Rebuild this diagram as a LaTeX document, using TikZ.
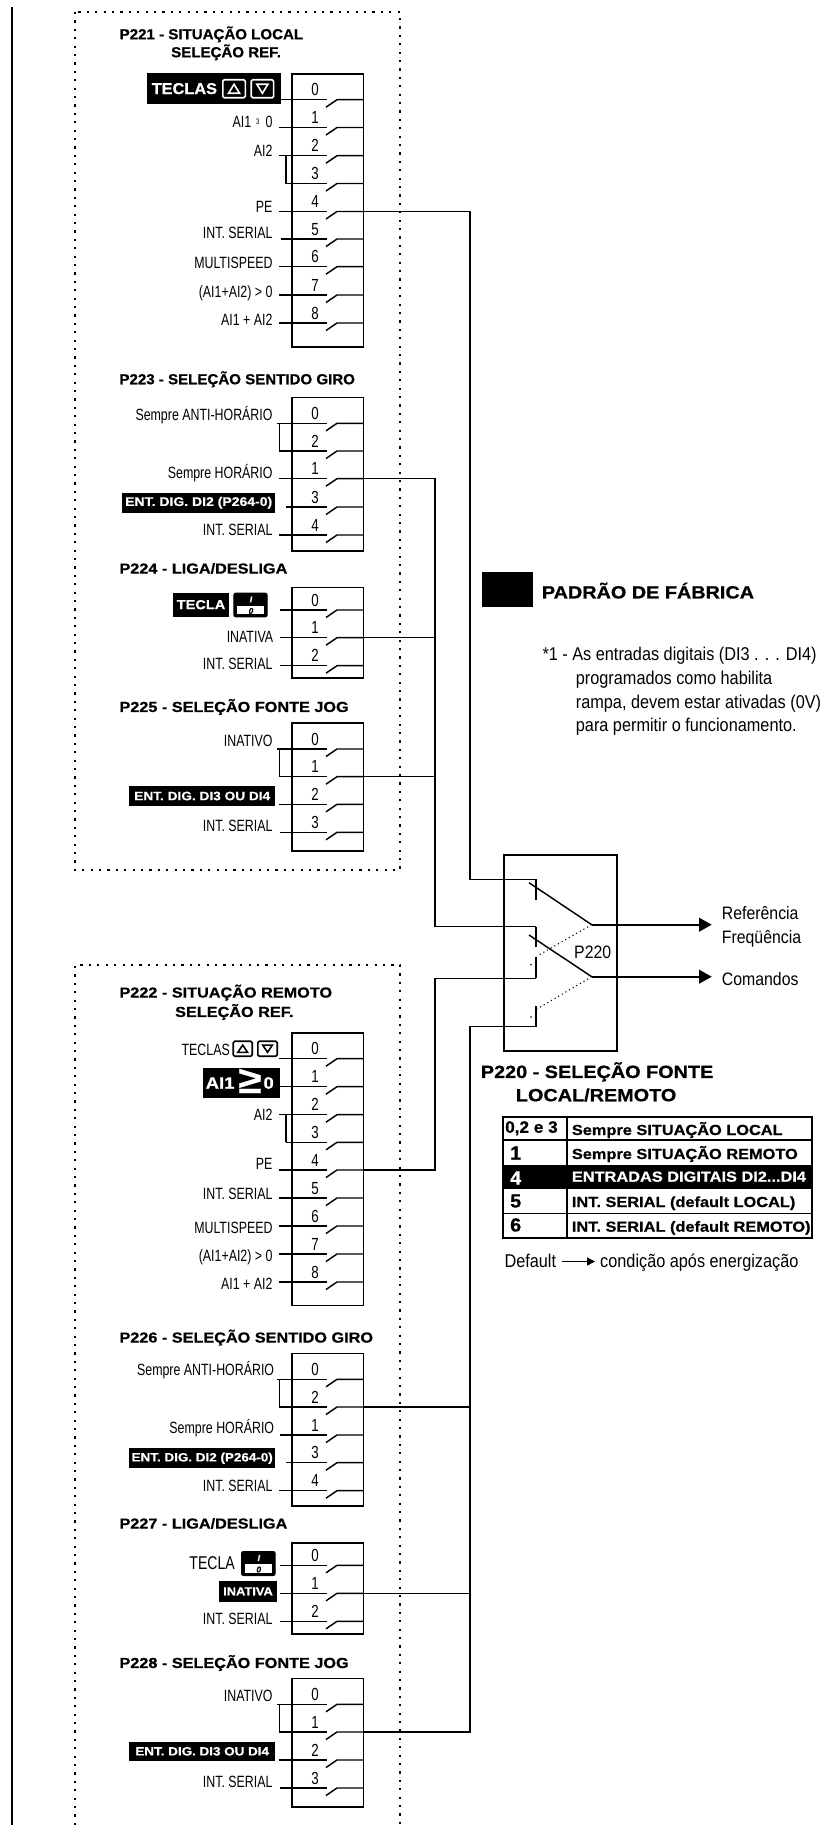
\documentclass[tikz,border=0pt]{standalone}
\usepackage{fontspec}
\setmainfont{Liberation Sans}
\newfontfamily\cond[FakeStretch=0.76]{Liberation Sans}
\newfontfamily\condw[FakeStretch=0.88]{Liberation Sans}
\newfontfamily\blkA[FakeStretch=1.04,FakeBold=0.7]{Liberation Sans Bold}
\newfontfamily\blkB[FakeStretch=1.12,FakeBold=0.7]{Liberation Sans Bold}
\newfontfamily\keyf[FakeSlant=0.2,FakeBold=0.4]{Liberation Sans Bold}
\usetikzlibrary{arrows.meta,calc}
\newcommand{\fs}[1]{\fontsize{#1}{#1}\selectfont}
\tikzset{
  wire/.style={line width=1.45pt,line join=miter},
  swbox/.style={draw,line width=1.6pt,anchor=north west,inner sep=0pt,outer sep=0pt,minimum width=71.7pt},
  lbl/.style={anchor=east,inner sep=0pt,text height=11.6pt,text depth=0pt,font=\cond\fs{16.3}},
  num/.style={anchor=center,inner sep=0pt,text height=12.3pt,text depth=0pt,font=\cond\fs{17.5}},
  hda/.style={anchor=west,inner sep=0pt,text height=10.5pt,text depth=0pt,font=\blkA\fs{14.5}},
  hdb/.style={anchor=west,inner sep=0pt,text height=10.5pt,text depth=0pt,font=\blkB\fs{14.5}},
  hdc/.style={anchor=west,inner sep=0pt,text height=12.5pt,text depth=0pt,font=\blkB\fs{17.7}},
  tab/.style={anchor=west,inner sep=0pt,text height=10pt,text depth=0pt,font=\blkB\fs{14.6}},
  tabn/.style={anchor=west,inner sep=0pt,text height=13pt,text depth=0pt,font=\blkA\fs{19}},
  blkbox/.style={fill=black,text=white,inner sep=0pt,outer sep=0pt,anchor=center},
  txt/.style={anchor=west,inner sep=0pt,text height=13pt,text depth=0pt,font=\condw\fs{18.5}},
  dotbox/.style={line width=2.2pt,dash pattern=on 2.2pt off 6.2pt},
  bar/.style={line width=1.6pt},
  outp/.style={line width=1.8pt,-{Triangle[length=12.5pt,width=13.5pt]}},
  dots/.style={line width=1.1pt,dash pattern=on 1.1pt off 3.1pt},
}
% switch line: name, y, left x, number
\newcommand{\sw}[4]{%
  \coordinate (#1l) at (#3,#2);
  \coordinate (#1a) at (327,#2);
  \coordinate (#1b) at (326,{#2+7.5});
  \coordinate (#1t) at (337,#2);
  \coordinate (#1r) at (363.3,#2);
  \node[num] (#1n) at (315,{#2-10}) {#4};
  \draw[wire] (#1l) -- (#1a);
  \draw[wire] (#1b) -- (#1t) -- (#1r);
}
% switch block: name, top, bottom
\newcommand{\swb}[3]{\node[swbox,minimum height={#3-#2}] (#1) at (291.7,#2) {};}
% arrow key: x1,y1,x2,y2,colour,dir,half width,half height
\newcommand{\tkey}[8]{%
  \draw[#5,line width=1.6pt,rounded corners=1.5pt] (#1,#2) rectangle (#3,#4);
  \draw[#5,line width=1.6pt,line join=miter]
    ({(#1+#3)/2-#7},{(#2+#4)/2+#6*#8}) -- ({(#1+#3)/2+#7},{(#2+#4)/2+#6*#8}) -- ({(#1+#3)/2},{(#2+#4)/2-#6*#8}) -- cycle;
}
% I/0 key: name,x1,y1,x2,y2
\newcommand{\ikey}[5]{%
  \draw[fill=black,line width=1pt,rounded corners=2pt] (#2,#3) rectangle (#4,#5);
  \fill[white] ({#2+3},{(#3+#5)/2+0.5}) rectangle ({#4-3},{#5-3});
  \node[inner sep=0pt,text=white,font=\keyf\fs{8.5}] (#1i) at ({(#2+#4)/2},{(#3+#5)/2-5.5}) {I};
  \node[inner sep=0pt,text=black,font=\keyf\fs{8.5}] (#1o) at ({(#2+#4)/2},{(#3+#5)/2+6}) {0};
}
\begin{document}
\begin{tikzpicture}[x=1pt,y=-1pt]
\useasboundingbox (0,0) rectangle (829,1825);
\fill[white] (0,0) rectangle (829,1825);

% left rule and dotted frames
\coordinate (ruleT) at (12,7);
\coordinate (ruleB) at (12,1825);
\draw[line width=2.6pt] (ruleT) -- (ruleB);
\draw[dotbox] (75,12) rectangle (400,870);
\draw[dotbox] (75,1825) -- (75,965.3) -- (400,965.3) -- (400,1825);

% ---------- P221
\node[hda] (h221a) at (119.5,34) {P221 - SITUAÇÃO LOCAL};
\node[hda] (h221b) at (171,52) {SELEÇÃO REF.};
\node[blkbox,minimum width=133.4pt,minimum height=31pt] (tec1) at (214,88.8) {};
\node[anchor=west,inner sep=0pt,text=white,text height=11.5pt,text depth=0pt,font=\blkA\fs{15.7}] (tec1t) at (151.5,88.3) {TECLAS};
\tkey{222.8}{79.8}{245.3}{97.8}{white}{1}{5.5}{4.5}
\tkey{251.2}{79.8}{273.6}{97.8}{white}{-1}{5.5}{4.5}
\swb{p221}{74}{347}
\sw{a0}{99.7}{280}{0}
\sw{a1}{127.5}{279.3}{1}
\sw{a2}{155.7}{279.3}{2}
\sw{a3}{183.5}{286}{3}
\sw{a4}{211.5}{279.3}{4}
\sw{a5}{239}{280.7}{5}
\sw{a6}{266.7}{279.3}{6}
\sw{a7}{295}{279.3}{7}
\sw{a8}{323}{279.3}{8}
\draw[wire] (a3l) -- (a3l |- a2l);
\node[lbl] (a1x) at (272.7,122) {AI1\hspace{5pt}{\fs{8}\raisebox{3pt}{3}}\hspace{6pt}0};
\node[lbl] (a2x) at (272.7,150.7) {AI2};
\node[lbl] (a4x) at (272.7,206.7) {PE};
\node[lbl] (a5x) at (272.7,233) {INT. SERIAL};
\node[lbl] (a6x) at (272.7,263) {MULTISPEED};
\node[lbl] (a7x) at (272.7,291.7) {(AI1+AI2) > 0};
\node[lbl] (a8x) at (272.7,320) {AI1 + AI2};

% ---------- P223
\node[hda] (h223) at (119.3,379) {P223 - SELEÇÃO SENTIDO GIRO};
\swb{p223}{397.3}{550.7}
\sw{b0}{423.3}{277.3}{0}
\sw{b1}{451}{279.3}{2}
\sw{b2}{478.7}{279.3}{1}
\sw{b3}{507}{286}{3}
\sw{b4}{535}{279.3}{4}
\draw[wire] (b1l) -- (b1l |- b0l);
\node[lbl] (b0x) at (272.7,415) {Sempre ANTI-HORÁRIO};
\node[lbl] (b2x) at (272.7,472.3) {Sempre HORÁRIO};
\node[blkbox,minimum width=152.7pt,minimum height=20pt,font=\blkB\fs{12.5}] (b3x) at (198.7,502.7) {ENT. DIG. DI2 (P264-0)};
\node[lbl] (b4x) at (272.7,529.3) {INT. SERIAL};

% ---------- P224
\node[hdb] (h224) at (119.3,568.3) {P224 - LIGA/DESLIGA};
\swb{p224}{587.3}{678}
\sw{c0}{610}{280}{0}
\sw{c1}{637.7}{280}{1}
\sw{c2}{665.7}{280}{2}
\node[blkbox,minimum width=56.6pt,minimum height=24pt,font=\blkB\fs{13}] (c0x) at (201,604.7) {TECLA};
\ikey{k224}{233.8}{593.2}{267.2}{616.8}
\node[lbl] (c1x) at (273.3,636.7) {INATIVA};
\node[lbl] (c2x) at (272.7,663.3) {INT. SERIAL};

% ---------- P225
\node[hdb] (h225) at (119.3,706.7) {P225 - SELEÇÃO FONTE JOG};
\swb{p225}{722.7}{851}
\sw{d0}{749}{277.3}{0}
\sw{d1}{776.7}{279.3}{1}
\sw{d2}{804.3}{279.3}{2}
\sw{d3}{832.3}{280}{3}
\draw[wire] (d1l) -- (d1l |- d0l);
\node[lbl] (d0x) at (272.7,741) {INATIVO};
\node[blkbox,minimum width=145.7pt,minimum height=20pt,font=\blkB\fs{12.2}] (d2x) at (202.2,796) {ENT. DIG. DI3 OU DI4};
\node[lbl] (d3x) at (272.7,826) {INT. SERIAL};

% ---------- P222
\node[hdb] (h222a) at (119.3,992.3) {P222 - SITUAÇÃO REMOTO};
\node[hdb] (h222b) at (175,1011.7) {SELEÇÃO REF.};
\swb{p222}{1032.7}{1305.3}
\sw{e0}{1058.7}{279.3}{0}
\sw{e1}{1086.7}{280}{1}
\sw{e2}{1114.7}{279.3}{2}
\sw{e3}{1142.3}{286}{3}
\sw{e4}{1170}{279.3}{4}
\sw{e5}{1198}{279.3}{5}
\sw{e6}{1226}{279.3}{6}
\sw{e7}{1254}{279.3}{7}
\sw{e8}{1282}{279.3}{8}
\draw[wire] (e3l) -- (e3l |- e2l);
\node[lbl] (e0x) at (230,1049.3) {TECLAS};
\tkey{233.2}{1041.2}{252.2}{1056.2}{black}{1}{4.8}{3.6}
\tkey{257.8}{1041.2}{277.2}{1056.2}{black}{-1}{4.8}{3.6}
\node[blkbox,minimum width=76.7pt,minimum height=30pt] (e1x) at (241.7,1083.3) {};
\node[anchor=west,inner sep=0pt,text=white,text height=12pt,text depth=0pt,font=\blkB\fs{16.5}] (e1t) at (205.5,1082.7) {AI1};
\node[inner sep=0pt,text=white,font=\blkB\fs{38}] (e1g) at (250,1081) {≥};
\node[anchor=west,inner sep=0pt,text=white,text height=12pt,text depth=0pt,font=\blkB\fs{16.5}] (e1z) at (263.3,1082.7) {0};
\node[lbl] (e2x) at (272.7,1114.3) {AI2};
\node[lbl] (e4x) at (272.7,1163.3) {PE};
\node[lbl] (e5x) at (272.7,1193.3) {INT. SERIAL};
\node[lbl] (e6x) at (272.7,1227.3) {MULTISPEED};
\node[lbl] (e7x) at (272.7,1256) {(AI1+AI2) > 0};
\node[lbl] (e8x) at (272.7,1283.3) {AI1 + AI2};

% ---------- P226
\node[hdb] (h226) at (119.3,1337.3) {P226 - SELEÇÃO SENTIDO GIRO};
\swb{p226}{1353.3}{1506}
\sw{f0}{1379.3}{277.3}{0}
\sw{f1}{1407}{279.3}{2}
\sw{f2}{1435}{280}{1}
\sw{f3}{1462.7}{286}{3}
\sw{f4}{1490.7}{279.3}{4}
\draw[wire] (f1l) -- (f1l |- f0l);
\node[lbl] (f0x) at (274.3,1370) {Sempre ANTI-HORÁRIO};
\node[lbl] (f2x) at (274.3,1427.3) {Sempre HORÁRIO};
\node[blkbox,minimum width=145.7pt,minimum height=20pt,font=\blkB\fs{12}] (f3x) at (202.2,1458.3) {ENT. DIG. DI2 (P264-0)};
\node[lbl] (f4x) at (272.7,1485.3) {INT. SERIAL};

% ---------- P227
\node[hdb] (h227) at (119.3,1523.3) {P227 - LIGA/DESLIGA};
\swb{p227}{1542.7}{1634}
\sw{g0}{1565.3}{280}{0}
\sw{g1}{1593.3}{280}{1}
\sw{g2}{1621.3}{280}{2}
\node[anchor=east,inner sep=0pt,text height=13pt,text depth=0pt,font=\cond\fs{18.5}] (g0x) at (235,1562.7) {TECLA};
\ikey{k227}{241.5}{1551.5}{275.2}{1575.5}
\node[blkbox,minimum width=57.4pt,minimum height=20.7pt,font=\blkB\fs{11.5}] (g1x) at (248,1591.3) {INATIVA};
\node[lbl] (g2x) at (272.7,1618.7) {INT. SERIAL};

% ---------- P228
\node[hdb] (h228) at (119.3,1662.7) {P228 - SELEÇÃO FONTE JOG};
\swb{p228}{1678.3}{1807}
\sw{h0}{1704.3}{277.3}{0}
\sw{h1}{1732}{279.3}{1}
\sw{h2}{1760}{279.3}{2}
\sw{h3}{1788}{280}{3}
\draw[wire] (h1l) -- (h1l |- h0l);
\node[lbl] (h0x) at (272.7,1696) {INATIVO};
\node[blkbox,minimum width=145.7pt,minimum height=19.4pt,font=\blkB\fs{12}] (h2x) at (202.2,1751.3) {ENT. DIG. DI3 OU DI4};
\node[lbl] (h3x) at (272.7,1782) {INT. SERIAL};

% ---------- P220 selector
\node[draw,line width=1.6pt,anchor=north west,inner sep=0pt,outer sep=0pt,minimum width=112.7pt,minimum height=196pt] (p220) at (504,854.7) {};
\coordinate (s1top) at (536,879.3);
\coordinate (s1bot) at (536,900);
\coordinate (s2top) at (536,926.7);
\coordinate (s2bot) at (536,946.7);
\coordinate (s3top) at (536,956.7);
\coordinate (s3bot) at (536,978.3);
\coordinate (s4top) at (536,1006);
\coordinate (s4bot) at (536,1026.7);
\coordinate (xA) at (470,0);
\coordinate (xB) at (435,0);
\coordinate (b1s) at (529,882.7);
\coordinate (b2s) at (529,935);
\coordinate (pv1) at (591.7,924.7);
\coordinate (pv2) at (591.7,976.7);
\coordinate (d1e) at (537,956);
\coordinate (d2e) at (537,1009);
\coordinate (o1) at (711.7,924.7);
\coordinate (o2) at (711.7,976.7);

% wires to the selector
\draw[wire] (a4r) -- (xA |- a4r) -- (xA |- s1top) -- (s1top);
\draw[wire] (b2r) -- (xB |- b2r) -- (xB |- s2top) -- (s2top);
\draw[wire] (c1r) -- (xB |- c1r);
\draw[wire] (d1r) -- (xB |- d1r);
\draw[wire] (e4r) -- (xB |- e4r) -- (xB |- s3bot) -- (s3bot);
\draw[wire] (f1r) -- (xA |- f1r);
\draw[wire] (g1r) -- (xA |- g1r);
\draw[wire] (h1r) -- (xA |- h1r) -- (xA |- s4bot) -- (s4bot);
\draw[bar] (s1top) -- (s1bot);
\draw[bar] (s2top) -- (s2bot);
\draw[bar] (s3top) -- (s3bot);
\draw[bar] (s4top) -- (s4bot);
\draw[wire] (b1s) -- (pv1);
\draw[wire] (b2s) -- (pv2);
\draw[outp] (pv1) -- (o1);
\draw[outp] (pv2) -- (o2);
\draw[dots] (pv1) -- (d1e);
\draw[dots] (pv2) -- (d2e);
\coordinate (dot1) at (531,964.7);
\coordinate (dot2) at (531,1017);
\fill (dot1) circle (0.8pt);
\fill (dot2) circle (0.8pt);
\node[inner sep=0pt,text height=12.8pt,text depth=0pt,font=\condw\fs{18}] (p220t) at (592.7,951.7) {P220};
\node[txt,font=\condw\fs{18}] (ref) at (721.7,912.7) {Referência};
\node[txt,font=\condw\fs{18}] (fre) at (721.7,936.7) {Freqüência};
\node[txt,font=\condw\fs{18}] (com) at (721.7,979.3) {Comandos};

% ---------- legend and note
\node[blkbox,minimum width=50.7pt,minimum height=35pt] (leg) at (507.3,589.2) {};
\node[anchor=west,inner sep=0pt,text height=13.5pt,text depth=0pt,font=\blkB\fs{17.7}] (legt) at (541.7,591.7) {PADRÃO DE FÁBRICA};
\node[txt] (n1) at (542.3,654.3) {*1 - As entradas digitais (DI3 . . . DI4)};
\node[txt] (n2) at (575.7,678.3) {programados como habilita};
\node[txt] (n3) at (575.7,701.7) {rampa, devem estar ativadas (0V)};
\node[txt] (n4) at (575.7,725) {para permitir o funcionamento.};

% ---------- P220 table
\node[hdc] (h220a) at (480.7,1071.7) {P220 - SELEÇÃO FONTE};
\node[hdc] (h220b) at (515.7,1095) {LOCAL/REMOTO};
\node[blkbox,minimum width=309pt,minimum height=24.3pt] (trow) at (657.2,1177.2) {};
\node[draw,line width=1.6pt,anchor=north west,inner sep=0pt,outer sep=0pt,minimum width=309pt,minimum height=121pt] (tframe) at (502.7,1116.7) {};
\coordinate (tv1) at (566.7,1116.7);
\coordinate (tv2) at (566.7,1165);
\coordinate (tv3) at (566.7,1189.3);
\coordinate (tv4) at (566.7,1237.7);
\draw[line width=1.6pt] (tv1) -- (tv2);
\draw[line width=1.6pt] (tv3) -- (tv4);
\coordinate (th1) at (502.7,1140);
\coordinate (th3) at (502.7,1213.3);
\draw[line width=1.6pt] (th1) -- (th1 -| tframe.east);
\draw[line width=1.6pt] (th3) -- (th3 -| tframe.east);
\node[anchor=west,inner sep=0pt,text height=11.5pt,text depth=0pt,font=\blkA\fs{16.5}] (t0a) at (505,1127) {0,2 e 3};
\node[tab] (t0b) at (571.7,1130) {Sempre SITUAÇÃO LOCAL};
\node[tabn] (t1a) at (510,1153) {1};
\node[tab] (t1b) at (571.7,1154) {Sempre SITUAÇÃO REMOTO};
\node[tabn,text=white] (t2a) at (510,1178) {4};
\node[tab,text=white] (t2b) at (571.7,1176.7) {ENTRADAS DIGITAIS DI2...DI4};
\node[tabn] (t3a) at (510,1201) {5};
\node[tab] (t3b) at (571.7,1202) {INT. SERIAL (default LOCAL)};
\node[tabn] (t4a) at (510,1225) {6};
\node[tab] (t4b) at (571.7,1226.7) {INT. SERIAL (default REMOTO)};

% ---------- default note
\node[txt] (dfl) at (504.3,1260.7) {Default};
\node[txt] (dfr) at (600,1260.7) {condição após energização};
\draw[line width=1.4pt,-{Triangle[length=8pt,width=8pt]}] (561.7,1261.5) -- (595,1261.5);
\end{tikzpicture}
\end{document}
